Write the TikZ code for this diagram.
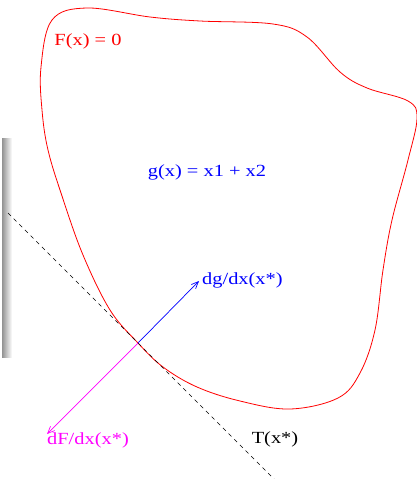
\documentclass[tikz,border=0pt]{standalone}
\usepackage{fontspec}
\setmainfont{Liberation Serif}[FakeStretch=1.2]
\usetikzlibrary{arrows.meta}
\definecolor{dFpink}{RGB}{255,0,255}
\definecolor{gblue}{RGB}{0,0,255}
\definecolor{Fred}{RGB}{255,0,0}
\begin{document}
\begin{tikzpicture}[
  x=1pt, y=-1pt,
  every node/.style={font=\fontsize{17}{20}\selectfont, inner sep=1pt},
  boundary/.style={draw=Fred, line width=0.8pt},
  tangent/.style={draw=black, dashed, dash pattern=on 4pt off 4pt, line width=0.7pt},
  gradvec/.style={line width=0.7pt, -{Straight Barb[length=7pt,width=6pt]}}
]
\useasboundingbox (0,0) rectangle (417,479);

% shadow strip at the left edge
\shade[left color=gray!85, right color=white] (2,138) rectangle (12,357);

% the curve F(x) = 0
\draw[boundary] plot[smooth cycle, tension=0.6] coordinates {
  (42,110) (48,150) (62,196) (83,255) (110,310) (138,343) (163,367)
  (197,387) (240,401) (290,409) (338,398) (360,373) (375,330)
  (383,270) (392,220) (408,160) (417,118) (408,101) (367,88)
  (340,72) (307,37) (273,24) (200,21) (150,17) (87,8) (52,20) (41,67)};

% tangent line and the two gradients at x*
\coordinate (xstar) at (138,343);
\coordinate (tA) at (8,213);
\coordinate (tB) at (274,479);
\coordinate (gtip) at (199,281);
\coordinate (Ftip) at (47,434);
\draw[tangent] (tA) -- (tB);
\draw[gradvec, gblue] (xstar) -- (gtip);
\draw[gradvec, dFpink] (xstar) -- (Ftip);

% labels
\node[Fred] (Flabel) at (88,41) {F(x) = 0};
\node[gblue] (glabel) at (207,172) {g(x) = x1 + x2};
\node[gblue, anchor=west] (dglabel) at (201,280) {dg/dx(x*)};
\node[dFpink, anchor=west] (dFlabel) at (46,440) {dF/dx(x*)};
\node (Tlabel) at (275,439) {T(x*)};
\end{tikzpicture}
\end{document}
